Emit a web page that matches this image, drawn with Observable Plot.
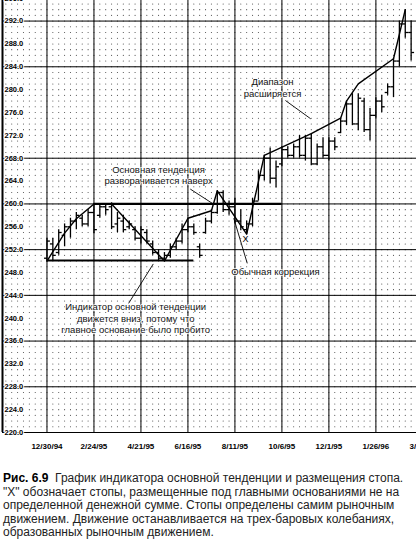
<!DOCTYPE html>
<html><head><meta charset="utf-8">
<script src="https://cdn.jsdelivr.net/npm/d3@7"></script>
<script src="https://cdn.jsdelivr.net/npm/@observablehq/plot@0.6"></script>
<style>
body{margin:0;background:#fff;}
#wrap{width:416px;height:542px;overflow:hidden;position:relative;background:#fff;}
#chart{width:440px;height:460px;}
#chart svg{max-width:none !important;}
#caption{font-family:"Liberation Sans",Arial,sans-serif;font-size:12px;line-height:13.6px;color:#222;padding-left:3px;white-space:nowrap;margin-top:12px}
#caption b{color:#000}
</style></head><body><div id="wrap"><div id="chart"></div><div id="caption"></div></div>
<script>
// ---- data ----
const firstWeek = "1994-12-30";
const highs = [254,254,255.5,256.5,257.5,258.5,258,259,260,260,260,260.2,258.5,258,257,256,256,255.5,253.5,252,251.5,253,254,256.5,257.5,256.5,253,257.5,259,262.3,262.3,260.5,261,259,257,261,265.8,268.5,269.8,267.5,270,270,270.5,272,272,272.3,270.5,271.6,271.6,271.6,275,278,279.3,279.3,278.5,276.7,278.6,279,281,285.4,292,294,292];
const lows = [250,250,251,252.5,254,255.5,256,256,254.8,257.5,258,255.5,255,255,255.5,253.5,253,253,251,250,250,250.5,252,253,255,254.5,250.5,254.7,256.5,258.2,258.5,258,256.5,255.3,254.7,256,260.5,264,263.5,262.8,266.5,268,268,268,267.5,266.7,266.7,268,267.5,269.3,272.3,273.7,273.7,272.8,272.5,271,275,276,279,278.6,284,289,285];
const opens = [250.5,253,251.5,254.5,256,257,257.5,256.5,258.5,258,259.5,259.5,256.5,257,256,255.5,254,255,253,251.5,250.5,251,252.5,253.5,255.5,256,252.5,255,257,258.5,262,259,259.5,257,255.5,256.5,260.5,265,268,264.5,267,269.5,268.5,270,268.5,271.5,267,270,268.5,271,272.5,274.5,277.5,274,278,273,275.5,278,279.5,280.5,285,291.5,290];
const closes = [253.5,251,255,256,257,258,256.5,258.5,255.5,259.5,259,256,257.5,255.5,256.5,254,255.5,253.5,251.5,250.5,251,252.5,253.5,255.5,256,255,251,257,258.5,262,259,259.5,257,256,256.5,260.5,265,268,264.5,266.5,269.5,268.5,270,268.5,271.5,267,270,268.5,271,270,274.5,277.5,274,278.5,273,275.5,278,277,280.5,285,291.5,290,286.5];
const trendWeeks = [0,3,5,8,11,20,24,28,29,34,37,45,50,51,53,59,61];
const trendValues = [250,254.9,257.4,260,260,250,257.5,258.8,262.3,254.7,268.5,272.3,275,278,281,285.4,294];
const rangeStartWeeks = [0,8];
const rangeEndWeeks = [25,40];
const rangeValues = [250.1,260];
const stopWeeks = [33.8];
const stopValues = [253.9];
const xTickDates = ["1994-12-30","1995-02-24","1995-04-21","1995-06-16","1995-08-11","1995-10-06","1995-12-01","1996-01-26","1996-03-22"];
const xTickLabels = ["12/30/94","2/24/95","4/21/95","6/16/95","8/11/95","10/6/95","12/1/95","1/26/96","3/22/96"];
const yTickValues = [220,224,228,232,236,240,244,248,252,256,260,264,268,272,276,280,284,288,292,296];
const ySolid = [220,228,236,244,252,260,268,284,292];
const notes = [
  {week: 38.4, value: 280.4, text: "Диапазон\nрасширяется"},
  {week: 19.0, value: 265.1, text: "Основная тенденция\nразворачивается наверх"},
  {week: 38.9, value: 248.2, text: "Обычная коррекция"},
  {week: 15.1, value: 240.0, text: "Индикатор основной тенденции\nдвижется вниз, потому что\nглавное основание было пробито"}
];
const pointers = [
  {w1: 40.6, v1: 278.1, w2: 44.9, v2: 274.9},
  {w1: 24.4, v1: 262.6, w2: 28.3, v2: 260.0},
  {w1: 34.1, v1: 249.6, w2: 31.8, v2: 257.5},
  {w1: 13.9, v1: 242.6, w2: 18.1, v2: 249.5}
];
const captionLines = [
  "<b>Рис. 6.9</b>&nbsp;&nbsp;График индикатора основной тенденции и размещения стопа.",
  "\"X\" обозначает стопы, размещенные под главными основаниями не на",
  "определенной денежной сумме. Стопы определены самим рыночным",
  "движением. Движение останавливается на трех-баровых колебаниях,",
  "образованных рыночным движением."
];

// ---- build ----
const t0 = new Date(firstWeek + "T00:00:00Z");
const wk = w => new Date(t0.getTime() + w * 7 * 864e5);
const bars = highs.map((h, i) => ({date: wk(i), high: h, low: lows[i], open: opens[i], close: closes[i]}));
const trend = trendWeeks.map((w, i) => ({date: wk(w), value: trendValues[i]}));
const ranges = rangeValues.map((v, i) => ({x1: wk(rangeStartWeeks[i]), x2: wk(rangeEndWeeks[i]), y: v}));
const stops = stopWeeks.map((w, i) => ({date: wk(w), value: stopValues[i]}));
const xTicks = xTickDates.map((d, i) => ({date: new Date(d + "T00:00:00Z"), label: xTickLabels[i]}));
const xDomain = [new Date("1994-11-07T00:00:00Z"), new Date("1996-04-12T00:00:00Z")];
const dotGrid = d3.cross(d3.range(-7, 68), d3.range(220, 296)).map(([w, v]) => ({date: wk(w), v}));
const half = 84 * 3600e3;

const chart = Plot.plot({
  width: 440, height: 460,
  marginLeft: 2, marginRight: 0, marginTop: 0, marginBottom: 28,
  x: {type: "utc", domain: xDomain, axis: null},
  y: {domain: [220, 295.6], axis: null},
  style: {fontFamily: "'Liberation Sans', Arial, sans-serif", background: "#fff", color: "#000", overflow: "visible", maxWidth: "none"},
  marks: [
    Plot.dot(dotGrid, {x: "date", y: "v", r: 0.55, fill: "#444", stroke: null}),
    Plot.ruleY(ySolid, {stroke: "#000", strokeWidth: 1}),
    Plot.ruleX(xTicks, {x: "date", stroke: "#000", strokeWidth: 1}),
    Plot.ruleX([xDomain[0]], {stroke: "#000", strokeWidth: 2}),
    Plot.ruleY(ranges, {y: "y", x1: "x1", x2: "x2", stroke: "#000", strokeWidth: 2.2}),
    Plot.ruleX(bars, {x: "date", y1: "low", y2: "high", stroke: "#000", strokeWidth: 1.3}),
    Plot.link(bars, {x1: d => new Date(d.date.getTime() - half), x2: "date", y1: "open", y2: "open", stroke: "#000", strokeWidth: 1.3}),
    Plot.link(bars, {x1: "date", x2: d => new Date(d.date.getTime() + half), y1: "close", y2: "close", stroke: "#000", strokeWidth: 1.3}),
    Plot.line(trend, {x: "date", y: "value", stroke: "#000", strokeWidth: 1.4}),
    Plot.link(pointers, {x1: d => wk(d.w1), y1: "v1", x2: d => wk(d.w2), y2: "v2", stroke: "#000", strokeWidth: 0.9}),
    Plot.text(notes, {x: d => wk(d.week), y: "value", text: "text", fontSize: 9.5, lineHeight: 1.2, fill: "#111", stroke: "#fff", strokeWidth: 1.5}),
    Plot.text(stops, {x: "date", y: "value", text: () => "X", fontSize: 9, fill: "#000"}),
    Plot.text(yTickValues, {y: d => d, text: d => d.toFixed(1), frameAnchor: "left", dx: 2, textAnchor: "start", fontWeight: "bold", fontSize: 7.5, fill: "#000", stroke: "#fff", strokeWidth: 2}),
    Plot.text(xTicks, {x: "date", text: "label", frameAnchor: "bottom", dy: 16, fontWeight: "bold", fontSize: 8, fill: "#000"})
  ]
});
document.getElementById("chart").appendChild(chart);
document.getElementById("caption").innerHTML = captionLines.map(l => `<div>${l}</div>`).join("");
</script>
</body></html>
